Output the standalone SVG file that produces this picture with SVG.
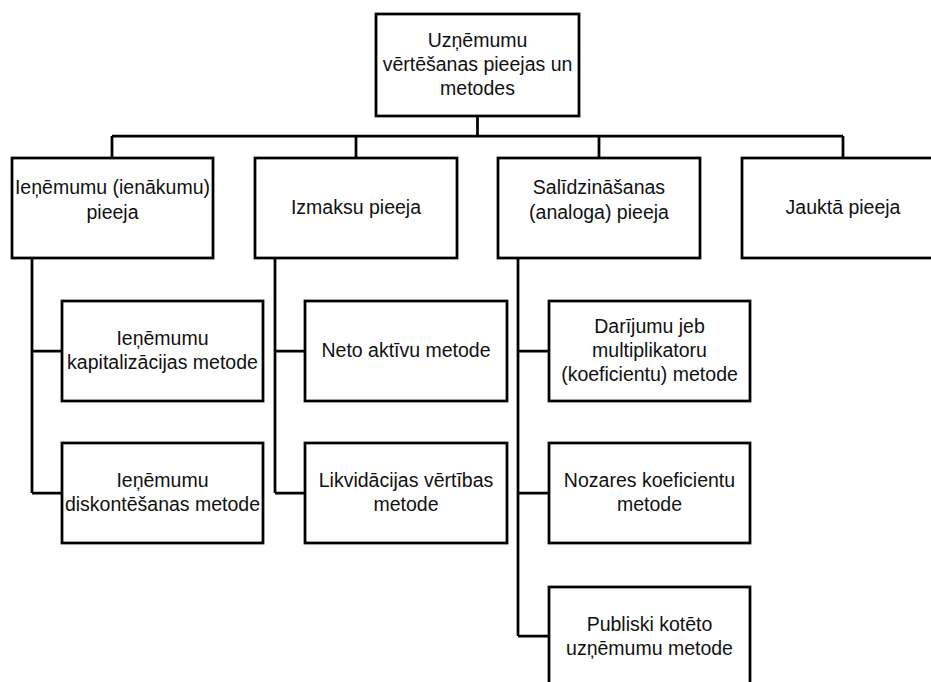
<svg xmlns="http://www.w3.org/2000/svg" width="931" height="682" viewBox="0 0 931 682">
<style>
.box{fill:#fff;stroke:#000;stroke-width:2.75}
.ln{fill:none;stroke:#000;stroke-width:2.75}
text{font-family:"Liberation Sans",Arial,sans-serif;font-size:19.5px;fill:#111;text-anchor:middle}
</style>
<rect width="931" height="682" fill="#fff"/>
<g id="connectors">
<path class="ln" d="M477.5,116 V136 M112,136 H843 M112,136 V158 M356,136 V158 M599,136 V158 M843,136 V158"/>
<path class="ln" d="M32,258 V493 M32,351 H62 M32,493 H62"/>
<path class="ln" d="M275,258 V493 M275,351 H305 M275,493 H305"/>
<path class="ln" d="M518,258 V636 M518,351 H549 M518,493 H549 M518,636 H549"/>
</g>
<g id="root"><rect class="box" x="376" y="14" width="203" height="102"/>
<text x="477.5" y="47">Uzņēmumu</text><text x="477.5" y="71">vērtēšanas pieejas un</text><text x="477.5" y="95">metodes</text></g>
<g id="ienemumu"><rect class="box" x="12" y="158" width="201" height="100"/>
<text x="112.5" y="194">Ieņēmumu (ienākumu)</text><text x="112.5" y="219">pieeja</text></g>
<g id="izmaksu"><rect class="box" x="255" y="158" width="202" height="100"/>
<text x="356" y="214">Izmaksu pieeja</text></g>
<g id="salidzinasanas"><rect class="box" x="498" y="158" width="202" height="100"/>
<text x="599" y="194">Salīdzināšanas</text><text x="599" y="219">(analoga) pieeja</text></g>
<g id="jaukta"><rect class="box" x="742" y="158" width="202" height="100"/>
<text x="843" y="214">Jauktā pieeja</text></g>
<g id="kapitalizacijas"><rect class="box" x="62" y="301" width="201" height="100"/>
<text x="162.5" y="345">Ieņēmumu</text><text x="162.5" y="369">kapitalizācijas metode</text></g>
<g id="diskontesanas"><rect class="box" x="62" y="443" width="201" height="100"/>
<text x="162.5" y="487">Ieņēmumu</text><text x="162.5" y="511">diskontēšanas metode</text></g>
<g id="neto"><rect class="box" x="305" y="301" width="202" height="100"/>
<text x="406" y="357">Neto aktīvu metode</text></g>
<g id="likvidacijas"><rect class="box" x="305" y="443" width="202" height="100"/>
<text x="406" y="487">Likvidācijas vērtības</text><text x="406" y="511">metode</text></g>
<g id="darijumu"><rect class="box" x="549" y="301" width="201" height="100"/>
<text x="649.5" y="333">Darījumu jeb</text><text x="649.5" y="357">multiplikatoru</text><text x="649.5" y="381">(koeficientu) metode</text></g>
<g id="nozares"><rect class="box" x="549" y="443" width="201" height="100"/>
<text x="649.5" y="487">Nozares koeficientu</text><text x="649.5" y="511">metode</text></g>
<g id="publiski"><rect class="box" x="549" y="587" width="201" height="100"/>
<text x="649.5" y="631">Publiski kotēto</text><text x="649.5" y="655">uzņēmumu metode</text></g>
</svg>
